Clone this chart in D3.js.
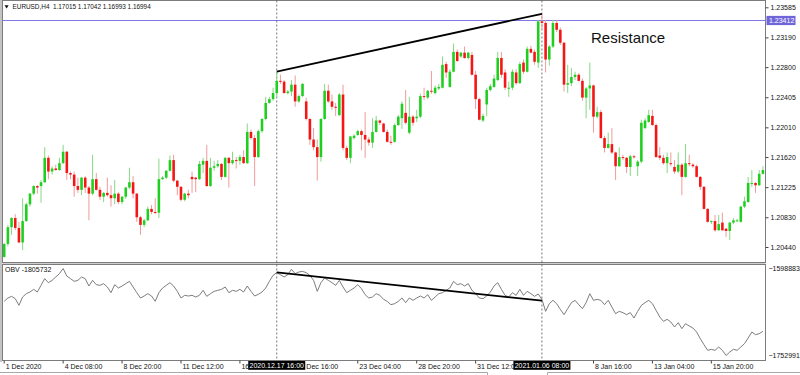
<!DOCTYPE html>
<html>
<head>
<meta charset="utf-8">
<script src="https://cdn.jsdelivr.net/npm/d3@7"></script>
<style>
  html, body { margin: 0; padding: 0; background: #fff; }
  svg { display: block; font-family: "Liberation Sans", Arial, sans-serif; }
</style>
</head>
<body>
<div id="chart"></div>
<script>
const width = 800;
const height = 375;

// EURUSD H4 bars
const opens = [
  1.2031,1.2048,1.2070,1.2082,1.2069,1.2050,1.2078,1.2100,1.2114,1.2124,
  1.2124,1.2129,1.2161,1.2143,1.2147,1.2145,1.2154,1.2169,1.2141,1.2139,
  1.2124,1.2119,1.2135,1.2122,1.2114,1.2133,1.2119,1.2110,1.2115,1.2112,
  1.2108,1.2114,1.2103,1.2110,1.2122,1.2129,1.2114,1.2083,1.2073,1.2079,
  1.2094,1.2090,1.2089,1.2133,1.2135,1.2144,1.2158,1.2131,1.2123,1.2106,
  1.2114,1.2136,1.2135,1.2133,1.2152,1.2157,1.2124,1.2148,1.2150,1.2153,
  1.2136,1.2161,1.2154,1.2158,1.2157,1.2162,1.2154,1.2195,1.2187,1.2162,
  1.2196,1.2212,1.2233,1.2238,1.2246,1.2262,1.2261,1.2246,1.2248,1.2257,
  1.2235,1.2242,1.2235,1.2212,1.2185,1.2175,1.2162,1.2212,1.2249,1.2235,
  1.2228,1.2217,1.2244,1.2174,1.2161,1.2187,1.2191,1.2196,1.2191,1.2185,
  1.2181,1.2195,1.2210,1.2206,1.2195,1.2182,1.2182,1.2204,1.2213,1.2220,
  1.2194,1.2215,1.2213,1.2215,1.2242,1.2240,1.2249,1.2246,1.2252,1.2253,
  1.2284,1.2254,1.2274,1.2300,1.2294,1.2299,1.2292,1.2296,1.2270,1.2238,
  1.2210,1.2231,1.2250,1.2254,1.2263,1.2292,1.2273,1.2252,1.2253,1.2273,
  1.2259,1.2286,1.2274,1.2304,1.2300,1.2286,1.2340,1.2338,1.2290,1.2307,
  1.2338,1.2329,1.2312,1.2257,1.2259,1.2267,1.2270,1.2262,1.2240,1.2252,
  1.2256,1.2215,1.2221,1.2187,1.2174,1.2179,1.2168,1.2150,1.2162,1.2161,
  1.2149,1.2163,1.2150,1.2156,1.2200,1.2208,1.2216,1.2204,1.2164,1.2161,
  1.2154,1.2154,1.2149,1.2143,1.2152,1.2136,1.2154,1.2152,1.2150,1.2136,
  1.2123,1.2094,1.2077,1.2078,1.2066,1.2076,1.2068,1.2065,1.2076,1.2078,
  1.2077,1.2097,1.2103,1.2127,1.2128,1.2125,1.2140
];
const highs = [
  1.2049,1.2073,1.2083,1.2087,1.2077,1.2108,1.2102,1.2115,1.2125,1.2125,
  1.2132,1.2175,1.2164,1.2150,1.2152,1.2161,1.2178,1.2170,1.2143,1.2143,
  1.2135,1.2136,1.2137,1.2124,1.2165,1.2141,1.2123,1.2116,1.2135,1.2125,
  1.2132,1.2116,1.2111,1.2123,1.2148,1.2137,1.2115,1.2085,1.2081,1.2097,
  1.2099,1.2108,1.2160,1.2137,1.2145,1.2164,1.2165,1.2132,1.2124,1.2115,
  1.2119,1.2143,1.2136,1.2157,1.2161,1.2178,1.2161,1.2157,1.2158,1.2154,
  1.2162,1.2162,1.2169,1.2162,1.2165,1.2171,1.2206,1.2198,1.2191,1.2198,
  1.2213,1.2241,1.2241,1.2253,1.2274,1.2270,1.2263,1.2250,1.2263,1.2269,
  1.2244,1.2259,1.2240,1.2213,1.2200,1.2185,1.2213,1.2258,1.2257,1.2244,
  1.2233,1.2246,1.2257,1.2177,1.2190,1.2192,1.2198,1.2198,1.2221,1.2188,
  1.2213,1.2216,1.2211,1.2207,1.2198,1.2190,1.2206,1.2217,1.2235,1.2250,
  1.2241,1.2217,1.2224,1.2245,1.2253,1.2250,1.2275,1.2256,1.2258,1.2294,
  1.2287,1.2277,1.2311,1.2303,1.2300,1.2307,1.2300,1.2300,1.2275,1.2240,
  1.2219,1.2253,1.2258,1.2270,1.2300,1.2300,1.2277,1.2261,1.2277,1.2277,
  1.2287,1.2290,1.2307,1.2308,1.2303,1.2342,1.2350,1.2342,1.2309,1.2342,
  1.2342,1.2332,1.2313,1.2283,1.2279,1.2274,1.2272,1.2265,1.2254,1.2286,
  1.2257,1.2228,1.2224,1.2190,1.2194,1.2200,1.2169,1.2175,1.2165,1.2162,
  1.2165,1.2165,1.2158,1.2211,1.2213,1.2224,1.2224,1.2206,1.2175,1.2165,
  1.2168,1.2168,1.2158,1.2168,1.2154,1.2179,1.2165,1.2154,1.2152,1.2137,
  1.2124,1.2095,1.2079,1.2086,1.2086,1.2089,1.2069,1.2077,1.2082,1.2081,
  1.2098,1.2110,1.2136,1.2145,1.2129,1.2145,1.2150
];
const lows = [
  1.2030,1.2045,1.2060,1.2066,1.2049,1.2040,1.2077,1.2097,1.2112,1.2114,
  1.2102,1.2128,1.2133,1.2139,1.2144,1.2144,1.2153,1.2132,1.2133,1.2110,
  1.2115,1.2112,1.2115,1.2079,1.2112,1.2118,1.2106,1.2103,1.2110,1.2097,
  1.2100,1.2100,1.2100,1.2107,1.2120,1.2108,1.2077,1.2060,1.2070,1.2078,
  1.2087,1.2087,1.2082,1.2132,1.2133,1.2143,1.2129,1.2112,1.2104,1.2104,
  1.2108,1.2115,1.2116,1.2132,1.2141,1.2123,1.2123,1.2144,1.2148,1.2132,
  1.2135,1.2122,1.2152,1.2147,1.2152,1.2153,1.2153,1.2185,1.2124,1.2161,
  1.2194,1.2210,1.2232,1.2236,1.2240,1.2258,1.2245,1.2244,1.2242,1.2228,
  1.2233,1.2241,1.2210,1.2178,1.2171,1.2131,1.2156,1.2211,1.2233,1.2224,
  1.2216,1.2216,1.2171,1.2158,1.2154,1.2185,1.2190,1.2171,1.2161,1.2177,
  1.2174,1.2194,1.2204,1.2194,1.2181,1.2178,1.2181,1.2203,1.2199,1.2205,
  1.2192,1.2203,1.2208,1.2213,1.2237,1.2238,1.2245,1.2244,1.2250,1.2252,
  1.2266,1.2253,1.2273,1.2287,1.2292,1.2291,1.2290,1.2269,1.2225,1.2210,
  1.2208,1.2216,1.2248,1.2253,1.2262,1.2266,1.2250,1.2241,1.2250,1.2257,
  1.2258,1.2271,1.2273,1.2298,1.2283,1.2279,1.2329,1.2273,1.2282,1.2305,
  1.2326,1.2309,1.2248,1.2246,1.2255,1.2263,1.2261,1.2236,1.2213,1.2224,
  1.2194,1.2213,1.2186,1.2168,1.2173,1.2166,1.2132,1.2149,1.2158,1.2141,
  1.2137,1.2160,1.2137,1.2154,1.2199,1.2207,1.2203,1.2161,1.2158,1.2152,
  1.2141,1.2150,1.2140,1.2141,1.2112,1.2135,1.2150,1.2148,1.2135,1.2119,
  1.2093,1.2076,1.2074,1.2064,1.2065,1.2065,1.2057,1.2053,1.2074,1.2077,
  1.2076,1.2095,1.2102,1.2123,1.2115,1.2124,1.2139
];
const closes = [
  1.2048,1.2070,1.2082,1.2069,1.2050,1.2078,1.2100,1.2114,1.2124,1.2122,
  1.2129,1.2161,1.2143,1.2147,1.2145,1.2154,1.2169,1.2141,1.2139,1.2124,
  1.2119,1.2135,1.2122,1.2114,1.2133,1.2119,1.2110,1.2115,1.2112,1.2108,
  1.2114,1.2103,1.2110,1.2122,1.2129,1.2114,1.2083,1.2073,1.2079,1.2094,
  1.2090,1.2089,1.2133,1.2135,1.2144,1.2158,1.2131,1.2123,1.2106,1.2114,
  1.2112,1.2133,1.2133,1.2153,1.2157,1.2124,1.2148,1.2150,1.2153,1.2136,
  1.2161,1.2154,1.2158,1.2157,1.2162,1.2154,1.2195,1.2187,1.2162,1.2196,
  1.2212,1.2233,1.2238,1.2246,1.2262,1.2261,1.2246,1.2248,1.2257,1.2235,
  1.2242,1.2258,1.2212,1.2185,1.2175,1.2162,1.2212,1.2249,1.2235,1.2228,
  1.2227,1.2244,1.2174,1.2161,1.2189,1.2190,1.2196,1.2191,1.2185,1.2181,
  1.2195,1.2210,1.2207,1.2195,1.2182,1.2181,1.2204,1.2215,1.2232,1.2207,
  1.2215,1.2207,1.2215,1.2242,1.2241,1.2249,1.2248,1.2253,1.2254,1.2283,
  1.2273,1.2274,1.2300,1.2288,1.2299,1.2292,1.2299,1.2270,1.2238,1.2211,
  1.2216,1.2250,1.2255,1.2265,1.2292,1.2270,1.2253,1.2253,1.2274,1.2259,
  1.2284,1.2274,1.2304,1.2299,1.2287,1.2340,1.2338,1.2290,1.2307,1.2338,
  1.2329,1.2312,1.2257,1.2259,1.2267,1.2270,1.2262,1.2240,1.2252,1.2256,
  1.2215,1.2221,1.2187,1.2174,1.2179,1.2168,1.2150,1.2162,1.2161,1.2149,
  1.2163,1.2162,1.2156,1.2207,1.2210,1.2217,1.2204,1.2162,1.2161,1.2154,
  1.2162,1.2153,1.2143,1.2152,1.2136,1.2154,1.2153,1.2150,1.2136,1.2123,
  1.2094,1.2077,1.2078,1.2066,1.2074,1.2066,1.2065,1.2076,1.2079,1.2079,
  1.2097,1.2104,1.2128,1.2128,1.2125,1.2140,1.2145
];

// On Balance Volume, one value per bar
const obv = [
  -1657047,-1651142,-1648190,-1652323,-1664133,-1649371,-1643466,-1640513,-1635789,-1640513,
  -1628703,-1616893,-1623979,-1619846,-1613941,-1608036,-1598883,-1612169,-1616893,-1621617,
  -1619846,-1613941,-1616893,-1629884,-1619846,-1627522,-1628703,-1625751,-1631656,-1641694,
  -1627522,-1633427,-1629884,-1625751,-1621617,-1631656,-1641694,-1651142,-1647599,-1643466,
  -1647599,-1657047,-1641694,-1633427,-1628703,-1623979,-1629884,-1639332,-1651142,-1646418,
  -1647599,-1646418,-1649371,-1646418,-1637561,-1648190,-1643466,-1639332,-1637561,-1635789,
  -1631656,-1641694,-1637561,-1639332,-1635789,-1640513,-1629884,-1639332,-1647599,-1644647,
  -1640513,-1633427,-1621617,-1610988,-1606264,-1609807,-1613941,-1609807,-1600359,-1608036,
  -1605083,-1603902,-1606264,-1610988,-1619846,-1639332,-1623979,-1615712,-1619846,-1623979,
  -1628703,-1619846,-1631656,-1641694,-1637561,-1633427,-1627522,-1634608,-1645237,-1651142,
  -1649371,-1643466,-1646418,-1653504,-1657047,-1662952,-1661181,-1657047,-1651142,-1659409,
  -1651142,-1655276,-1651142,-1647599,-1651142,-1645237,-1655276,-1649371,-1643466,-1641694,
  -1637561,-1633427,-1621617,-1627522,-1625751,-1629884,-1625751,-1637561,-1643466,-1651142,
  -1652323,-1647599,-1640513,-1629884,-1623979,-1635789,-1646418,-1649371,-1641694,-1646418,
  -1635789,-1646418,-1639332,-1643466,-1648190,-1644056,-1653504,-1674762,-1661181,-1655276,
  -1661181,-1671219,-1680667,-1670038,-1659409,-1655276,-1662952,-1670038,-1659409,-1643466,
  -1655276,-1653504,-1655276,-1662952,-1655276,-1667086,-1678896,-1674762,-1677124,-1680667,
  -1677124,-1686572,-1674762,-1664133,-1659409,-1655276,-1661181,-1672991,-1684801,-1692477,
  -1688934,-1693658,-1702516,-1694839,-1705468,-1696611,-1700744,-1704287,-1711373,-1723183,
  -1733812,-1743851,-1742079,-1743851,-1737946,-1743851,-1752991,-1746803,-1742079,-1743851,
  -1737946,-1732041,-1722002,-1711373,-1716097,-1714326,-1710192
];

const priceTicks = [1.20440, 1.20830, 1.21225, 1.21620, 1.22010, 1.22405, 1.22800, 1.23190, 1.23585];
const obvTicks = [-1598883, -1752991];
const timeTicks = [0, 16, 32, 48, 64, 80, 96, 112, 128, 160, 176, 192];
// labels as they show; two are partly covered by the marker tags
const timeLabels = ["1 Dec 2020", "4 Dec 08:00", "8 Dec 20:00", "11 Dec 12:00", "16", "Dec 16:00",
  "23 Dec 04:00", "28 Dec 20:00", "31 Dec 12:00", "8 Jan 16:00", "13 Jan 04:00", "15 Jan 20:00"];
const markBars = [74, 146];
const markLabels = ["2020.12.17 16:00", "2021.01.06 08:00"];
const resistance = 1.23412;
const priceTrend = [1.2274, 1.2350];
const obvTrend = [-1605614, -1655922];

// layout
const left = 2.5, right = 765.5;
const mainTop = 0.5, mainBottom = 262.5;
const obvTop = 264.5, obvBottom = 360.5;

const svg = d3.select("#chart").append("svg")
  .attr("width", width)
  .attr("height", height);

svg.append("rect").attr("width", width).attr("height", height).attr("fill", "#fff");

const x = d3.scaleBand()
  .domain(d3.range(closes.length))
  .range([2.36, 764.74])
  .paddingInner(0.3)
  .paddingOuter(0.15);
const cx = i => x(i) + x.bandwidth() / 2;

const y = d3.scaleLinear().domain([1.2044, 1.23585]).range([247, 7.3]);
const yObv = d3.scaleLinear().domain([-1752991, -1598883]).range([355.5, 268.5]);

// frames
svg.append("rect").attr("x", 0).attr("y", 0).attr("width", 2).attr("height", 362).attr("fill", "#c4c4c4");
svg.append("rect").attr("x", left).attr("y", mainBottom).attr("width", right - left).attr("height", obvTop - mainBottom)
  .attr("fill", "#cfcfcf");
svg.append("rect").attr("x", left).attr("y", mainTop).attr("width", right - left).attr("height", mainBottom - mainTop)
  .attr("fill", "none").attr("stroke", "#7c7c7c");
svg.append("rect").attr("x", left).attr("y", obvTop).attr("width", right - left).attr("height", obvBottom - obvTop)
  .attr("fill", "none").attr("stroke", "#7c7c7c");

// bottom tab strip
svg.append("path")
  .attr("d", "M0,372.5H487.5V375M547.5,375V372.5H800")
  .attr("fill", "none").attr("stroke", "#a8a8a8");

// header
svg.append("path").attr("d", "M4.5,5.3L8.7,5.3L6.6,8.4Z").attr("fill", "#111");
svg.append("text")
  .attr("x", 12.5).attr("y", 9.2)
  .attr("font-size", 6.4).attr("fill", "#111")
  .style("white-space", "pre")
  .text("EURUSD,H4  1.17015 1.17042 1.16993 1.16994");

// resistance level
svg.append("line")
  .attr("x1", left).attr("x2", right)
  .attr("y1", y(resistance)).attr("y2", y(resistance))
  .attr("stroke", "#8075e6").attr("stroke-width", 1);

// marker verticals
svg.append("g").selectAll("line")
  .data(markBars)
  .join("line")
  .attr("x1", d => cx(d)).attr("x2", d => cx(d))
  .attr("y1", mainTop).attr("y2", obvBottom)
  .attr("stroke", "#555").attr("stroke-width", 0.8)
  .attr("stroke-dasharray", "2,2");

// candles
const bars = d3.range(closes.length).map(i => ({
  i, o: opens[i], h: highs[i], l: lows[i], c: closes[i], up: closes[i] >= opens[i]
}));

const candle = svg.append("g").selectAll("g")
  .data(bars)
  .join("g");

candle.append("line")
  .attr("x1", d => cx(d.i)).attr("x2", d => cx(d.i))
  .attr("y1", d => y(d.h)).attr("y2", d => y(d.l))
  .attr("stroke", d => d.up ? "#86d886" : "#f19a9a")
  .attr("stroke-width", 1);

candle.append("rect")
  .attr("x", d => x(d.i))
  .attr("width", x.bandwidth())
  .attr("y", d => y(Math.max(d.o, d.c)))
  .attr("height", d => Math.max(1, Math.abs(y(d.o) - y(d.c))))
  .attr("fill", d => d.up ? "#1fcf1f" : "#f41515");

// trend lines
const trend = d3.line().x(d => cx(d[0])).y(d => d[1]);
svg.append("path")
  .attr("d", trend([[markBars[0], y(priceTrend[0])], [markBars[1], y(priceTrend[1])]]))
  .attr("fill", "none").attr("stroke", "#000").attr("stroke-width", 1.8);

// Resistance text
svg.append("text")
  .attr("x", 591).attr("y", 42.5)
  .attr("font-size", 15).attr("fill", "#111")
  .text("Resistance");

// OBV line
svg.append("path")
  .datum(obv)
  .attr("d", d3.line().x((d, i) => cx(i)).y(d => yObv(d)))
  .attr("fill", "none").attr("stroke", "#6e6e6e").attr("stroke-width", 0.9);

svg.append("path")
  .attr("d", trend([[markBars[0], yObv(obvTrend[0])], [markBars[1], yObv(obvTrend[1])]]))
  .attr("fill", "none").attr("stroke", "#000").attr("stroke-width", 1.8);

svg.append("text")
  .attr("x", 5).attr("y", 271.8)
  .attr("font-size", 7).attr("fill", "#111")
  .text("OBV -1805732");

// price axis
const priceAxis = svg.append("g")
  .attr("transform", `translate(${right},0)`)
  .call(d3.axisRight(y).tickValues(priceTicks).tickSize(3).tickPadding(2).tickFormat(d3.format(".5f")));
priceAxis.select(".domain").remove();
priceAxis.selectAll("line").attr("stroke", "#444");
priceAxis.selectAll("text").attr("font-size", 7).attr("fill", "#111").attr("font-family", "Liberation Sans, Arial, sans-serif");

// resistance price tag
const tag = svg.append("g").attr("transform", `translate(${right + 1},${y(resistance)})`);
tag.append("rect").attr("x", 0).attr("y", -4.6).attr("width", 29).attr("height", 9.2).attr("fill", "#7065d8");
tag.append("text").attr("x", 2.5).attr("y", 2.5).attr("font-size", 7).attr("fill", "#fff").text(d3.format(".5f")(resistance));

// OBV axis
const obvAxis = svg.append("g")
  .attr("transform", `translate(${right},0)`)
  .call(d3.axisRight(yObv).tickValues(obvTicks).tickSize(0).tickPadding(3).tickFormat(d3.format("d")));
obvAxis.select(".domain").remove();
obvAxis.selectAll("text").attr("font-size", 7).attr("fill", "#111").attr("font-family", "Liberation Sans, Arial, sans-serif");

// time axis
const timeAxis = svg.append("g")
  .attr("transform", `translate(0,${obvBottom})`)
  .call(d3.axisBottom(x).tickValues(timeTicks).tickSize(3).tickPadding(2)
    .tickFormat((d, k) => timeLabels[k]));
timeAxis.select(".domain").remove();
timeAxis.selectAll("line").attr("stroke", "#444");
timeAxis.selectAll("text")
  .attr("text-anchor", "start")
  .attr("x", (d, k) => k === 5 ? 7.5 : 1.5)
  .attr("dy", "0.55em")
  .attr("font-size", 7).attr("fill", "#111").attr("font-family", "Liberation Sans, Arial, sans-serif");

// marker time tags
const mark = svg.append("g").selectAll("g")
  .data(markBars)
  .join("g")
  .attr("transform", d => `translate(${cx(d)},${obvBottom + 0.5})`);
mark.append("rect").attr("x", -28.5).attr("y", 0).attr("width", 57).attr("height", 8.8).attr("fill", "#000");
mark.append("text")
  .attr("text-anchor", "middle").attr("y", 6.8)
  .attr("font-size", 7).attr("fill", "#fff")
  .text((d, k) => markLabels[k]);
</script>
</body>
</html>
